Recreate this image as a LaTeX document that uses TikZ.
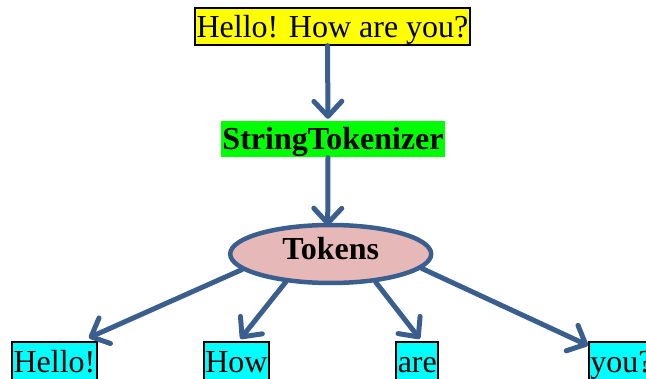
\documentclass[tikz,border=0pt]{standalone}
\usepackage{fontspec}
\setmainfont{Liberation Serif}
\usetikzlibrary{arrows.meta,shapes.geometric,calc}
\definecolor{arrowblue}{RGB}{58,95,142}
\definecolor{tokfill}{RGB}{230,185,184}
\definecolor{boxyellow}{RGB}{255,255,0}
\definecolor{boxgreen}{RGB}{0,255,0}
\definecolor{boxcyan}{RGB}{0,255,255}
\begin{document}
\begin{tikzpicture}[x=1pt,y=1pt,
 lbl/.style={font=\fontsize{32}{36}\selectfont, inner xsep=1.5pt, inner ysep=0pt, text height=29pt, text depth=7.5pt},
 boxed/.style={lbl, draw=black, line width=1.6pt},
 word/.style={boxed, fill=boxcyan, text height=31pt, line width=1.8pt},
 conn/.style={draw=arrowblue, line width=5pt, line cap=round, -{Straight Barb[length=15pt,width=28pt,line cap=round,line join=round]}},
]
\useasboundingbox (0,0) rectangle (646,378);
\node[boxed, fill=boxyellow, anchor=base] (top) at (332.5,340.7) {Hello! How are you?};
\node[lbl, fill=boxgreen, font=\bfseries\fontsize{32}{36}\selectfont, anchor=base] (st) at (333,228) {StringTokenizer};
\node[ellipse, draw=arrowblue, fill=tokfill, line width=4.5pt, minimum width=201pt, minimum height=58pt, inner sep=0pt, font=\bfseries\fontsize{32}{36}\selectfont, text height=22pt, text depth=10pt] (tok) at (330.7,124) {Tokens};
\node[word, anchor=base] (w1) at (54.5,5.3) {Hello!};
\node[word, anchor=base] (w2) at (236.5,5.3) {How};
\node[word, anchor=base] (w3) at (417.3,5.3) {are};
\node[word, anchor=base west] (w4) at (588,5.3) {you?};
\draw[conn, shorten >=2pt] ([xshift=-5pt]top.south) -- ([xshift=-5pt]st.north);
\draw[conn, shorten >=-3pt] ([xshift=-5pt]st.south) -- ([xshift=-3pt]tok.north);
\draw[conn] (tok.190) -- ([xshift=-9pt,yshift=3pt]w1.north east);
\draw[conn] (tok.212) -- ([xshift=4pt,yshift=2pt]w2.north);
\draw[conn] (tok.328) -- ([xshift=2.5pt,yshift=2pt]w3.north);
\draw[conn] (tok.351) -- (w4);
\end{tikzpicture}
\end{document}
